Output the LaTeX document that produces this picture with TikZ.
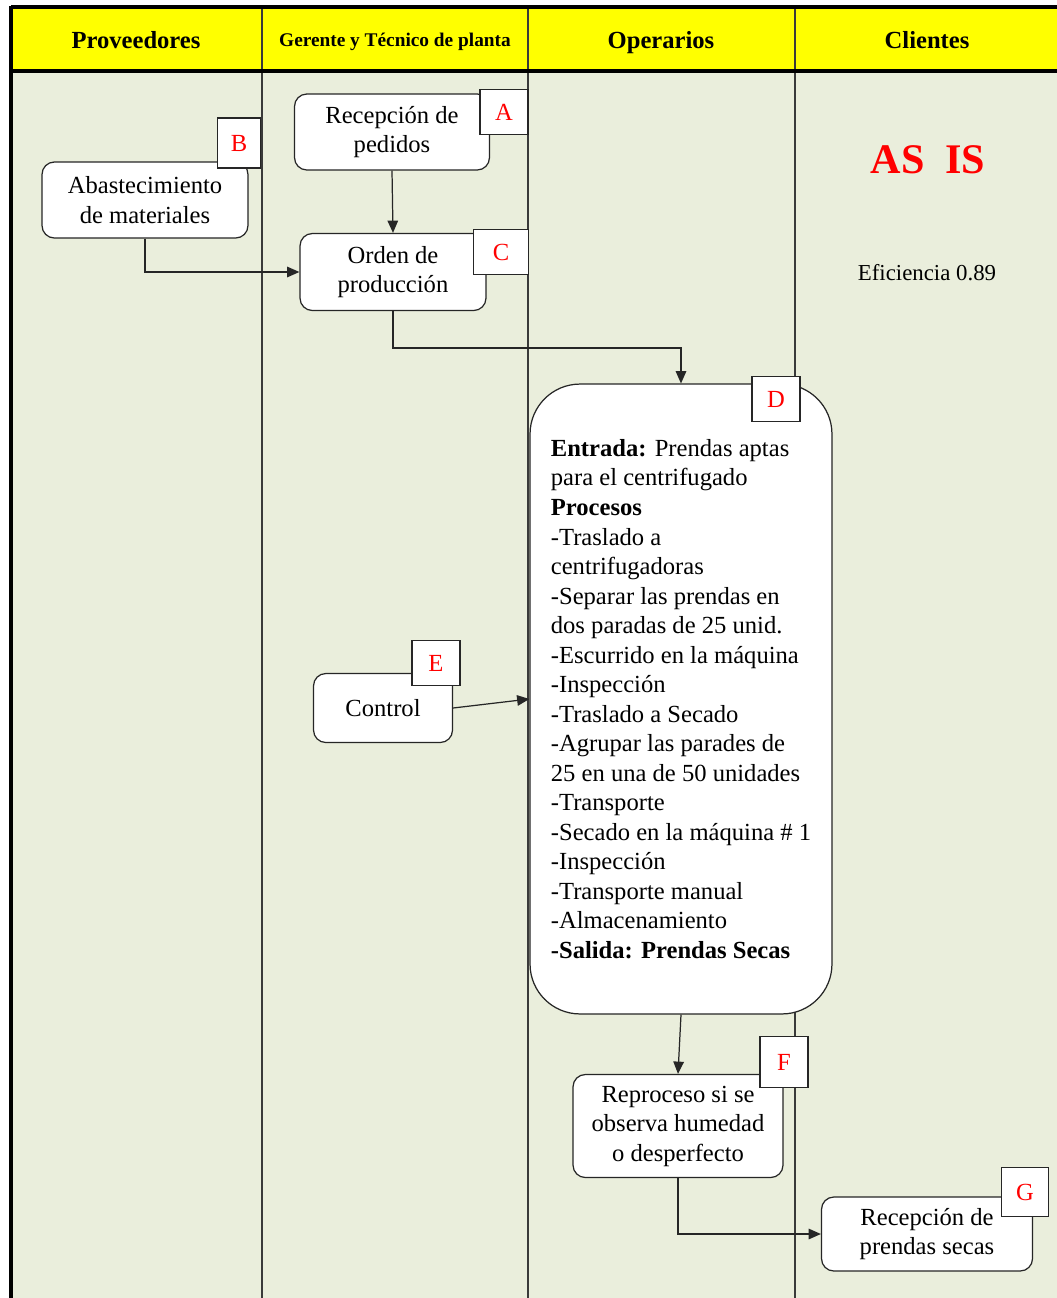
\documentclass[tikz,border=0pt]{standalone}
\usepackage{fontspec}
\setmainfont{Liberation Serif}
\usepackage{tikz}
\usetikzlibrary{arrows.meta,positioning,calc}
\definecolor{laneback}{HTML}{EAEEDC}
\definecolor{laneline}{HTML}{3A3A3A}
\definecolor{headyellow}{HTML}{FFFF00}

\begin{document}
\begin{tikzpicture}[
  x=0.02cm, y=-0.02cm,
  >={Triangle[length=7pt,width=6pt]},
  font=\fontsize{14}{16.8}\selectfont,
  procbox/.style={
    draw=black!85,
    line width=0.7pt,
    rounded corners=7pt,
    fill=white,
    align=center,
    inner sep=2pt
  },
  tagbox/.style={
    draw=black!85,
    line width=0.7pt,
    fill=white,
    text=red,
    minimum width=0.96cm,
    minimum height=0.9cm,
    inner sep=0pt
  },
  lanehead/.style={anchor=base,font=\fontsize{14}{16}\selectfont\bfseries},
  link/.style={->,line width=0.7pt,draw=black!85}
]
\useasboundingbox (0,0) rectangle (1057,1298);

% lanes
\fill[laneback] (11,71) rectangle (1057,1298);
\fill[headyellow] (11,8) rectangle (1057,71);
\foreach \xl in {262,528,795}
  \draw[laneline,line width=1.1pt] (\xl,8) -- (\xl,1298);
\draw[black,line width=1.8pt] (11,7) -- (1057,7);
\draw[black,line width=1.8pt] (11,71) -- (1057,71);
\draw[black,line width=1.8pt] (11,6) -- (11,1298);

\node[lanehead] (hprov) at (136,48) {Proveedores};
\node[lanehead,font=\fontsize{11}{13}\selectfont\bfseries] (hgerente) at (395,46) {Gerente y Técnico de planta};
\node[lanehead] (hoper) at (661,48) {Operarios};
\node[lanehead] (hcli) at (927,48) {Clientes};

\node[text=red,font=\fontsize{24}{28}\selectfont\bfseries] (asis) at (928,160) {AS\ \ IS};
\node[font=\fontsize{13}{15}\selectfont] (efic) at (927,273) {Eficiencia 0.89};

% steps
\node[procbox,minimum width=3.9cm,minimum height=1.52cm] (pedidos) at (392,132) {Recepción de\\pedidos};
\node[procbox,minimum width=4.12cm,minimum height=1.52cm] (abasto) at (145,200) {Abastecimiento\\de materiales};
\node[procbox,minimum width=3.72cm,minimum height=1.54cm] (orden) at (393,272) {Orden de\\producción};
\node[procbox,minimum width=6.04cm,minimum height=12.6cm,rounded corners=1cm,align=left] (proceso) at (681,699)
  {\textbf{Entrada:} Prendas aptas\\para el centrifugado\\\textbf{Procesos}\\-Traslado a\\centrifugadoras\\-Separar las prendas en\\dos paradas de 25 unid.\\-Escurrido en la máquina\\-Inspección\\-Traslado a Secado\\-Agrupar las parades de\\25 en una de 50 unidades\\-Transporte\\-Secado en la máquina \# 1\\-Inspección\\-Transporte manual\\-Almacenamiento\\\textbf{-Salida: Prendas Secas}};
\node[procbox,minimum width=2.78cm,minimum height=1.38cm] (control) at (383,708) {Control};
\node[procbox,minimum width=4.2cm,minimum height=2.06cm] (reproceso) at (678,1126) {Reproceso si se\\observa humedad\\o desperfecto};
\node[procbox,minimum width=4.22cm,minimum height=1.48cm] (secas) at (927,1234) {Recepción de\\prendas secas};

% letter tags
\node[tagbox] (tagA) at (504,112) {A};
\node[tagbox,minimum width=0.86cm,minimum height=1cm] (tagB) at (239,143) {B};
\node[tagbox,minimum width=1.1cm] (tagC) at (501,252) {C};
\node[tagbox] (tagD) at (776,399) {D};
\node[tagbox] (tagE) at (436,663) {E};
\node[tagbox,minimum height=1.02cm] (tagF) at (784,1062) {F};
\node[tagbox,minimum width=0.94cm,minimum height=0.98cm] (tagG) at (1025,1192) {G};

% flow
\draw[link] (pedidos.south) -- (orden.north);
\draw[link] (abasto.south) |- (orden.west);
\draw[link] (orden.south) -- ++(0,37) -| (proceso.north);
\draw[link] (control.east) -- (proceso.west);
\draw[link] (proceso.south) -- (reproceso.north);
\draw[link] (reproceso.south) |- (secas.west);
\end{tikzpicture}
\end{document}
